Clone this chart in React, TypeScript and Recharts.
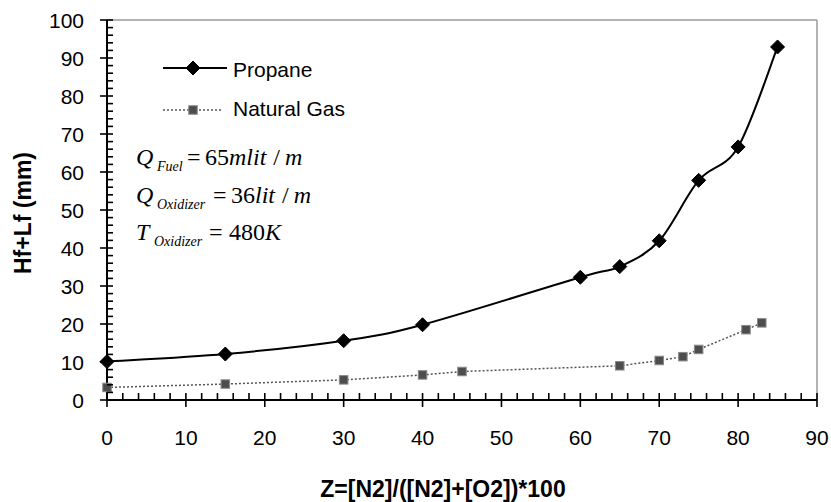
import React from "react";
import { LineChart, Line, XAxis, YAxis, ReferenceLine } from "recharts";

// Flame height data, Hf+Lf (mm) against nitrogen dilution Z (%)
const propaneZ = [0, 15, 30, 40, 60, 65, 70, 75, 80, 85];
const propaneH = [10.1, 12.1, 15.6, 19.8, 32.3, 35.1, 41.9, 57.8, 66.6, 92.9];
const gasZ = [0, 15, 30, 40, 45, 65, 70, 73, 75, 81, 83];
const gasH = [3.3, 4.2, 5.3, 6.6, 7.5, 9.0, 10.4, 11.4, 13.3, 18.5, 20.3];

const xMajorTicks = [0, 10, 20, 30, 40, 50, 60, 70, 80, 90];
const yMajorTicks = [0, 10, 20, 30, 40, 50, 60, 70, 80, 90, 100];
const minorStep = 2;

const xTicks: number[] = [];
for (let v = 0; v <= 90; v += minorStep) xTicks.push(v);
const yTicks: number[] = [];
for (let v = 0; v <= 100; v += minorStep) yTicks.push(v);

const propaneData = propaneZ.map((z, i) => ({ z, h: propaneH[i] }));
const gasData = gasZ.map((z, i) => ({ z, h: gasH[i] }));

const SANS = "'Liberation Sans', Arial, sans-serif";
const SERIF = "'Liberation Serif', 'Times New Roman', serif";

// Bezier smoothing through every point (Catmull-Rom style control points)
function smoothCurve(context: any) {
  let pts: number[][] = [];
  return {
    areaStart() {},
    areaEnd() {},
    lineStart() {
      pts = [];
    },
    point(x: number, y: number) {
      pts.push([+x, +y]);
    },
    lineEnd() {
      const n = pts.length;
      if (!n) return;
      context.moveTo(pts[0][0], pts[0][1]);
      for (let i = 0; i < n - 1; i++) {
        const p0 = pts[i - 1] || pts[i];
        const p1 = pts[i];
        const p2 = pts[i + 1];
        const p3 = pts[i + 2] || p2;
        context.bezierCurveTo(
          p1[0] + (p2[0] - p0[0]) / 6,
          p1[1] + (p2[1] - p0[1]) / 6,
          p2[0] - (p3[0] - p1[0]) / 6,
          p2[1] - (p3[1] - p1[1]) / 6,
          p2[0],
          p2[1]
        );
      }
    },
  };
}

const Diamond = ({ cx, cy, r = 7 }: any) => (
  <path d={`M${cx},${cy - r}L${cx + r},${cy}L${cx},${cy + r}L${cx - r},${cy}Z`} fill="#000" stroke="#000" strokeWidth={1} />
);

const Square = ({ cx, cy, s = 8.5 }: any) => (
  <rect x={cx - s / 2} y={cy - s / 2} width={s} height={s} fill="#4d4d4d" stroke="#8a8a8a" strokeWidth={1} />
);

const XTick = ({ x, y, payload }: any) => {
  const v = payload.value;
  const major = xMajorTicks.includes(v);
  return (
    <g>
      <line x1={x} x2={x} y1={y - 7} y2={major ? y + 7 : y} stroke="#000" strokeWidth={1.6} />
      {major && (
        <text x={x} y={y + 45} textAnchor="middle" fontFamily={SANS} fontSize={21} fill="#000">
          {v}
        </text>
      )}
    </g>
  );
};

const YTick = ({ x, y, payload }: any) => {
  const v = payload.value;
  const major = yMajorTicks.includes(v);
  return (
    <g>
      <line x1={major ? x - 7 : x} x2={x + 6} y1={y} y2={y} stroke="#000" strokeWidth={1.6} />
      {major && (
        <text x={x - 23} y={y + 7.5} textAnchor="end" fontFamily={SANS} fontSize={21} fill="#000">
          {v}
        </text>
      )}
    </g>
  );
};

export default function App() {
  return (
    <div style={{ position: "absolute", left: 0, top: 0, width: 831, height: 502, background: "#fff" }}>
      <LineChart width={831} height={502} margin={{ top: 20, right: 14, bottom: 0, left: 0 }}>
        <XAxis
          dataKey="z"
          type="number"
          domain={[0, 90]}
          ticks={xTicks}
          interval={0}
          tickSize={0}
          tickMargin={0}
          tickLine={false}
          tick={<XTick />}
          height={102}
          axisLine={{ stroke: "#000", strokeWidth: 2 }}
          allowDuplicatedCategory={false}
        />
        <YAxis
          type="number"
          domain={[0, 100]}
          ticks={yTicks}
          interval={0}
          tickSize={0}
          tickMargin={0}
          tickLine={false}
          tick={<YTick />}
          width={107}
          axisLine={{ stroke: "#000", strokeWidth: 2 }}
        />
        <ReferenceLine y={100} stroke="#9a9a9a" strokeWidth={1.5} />
        <ReferenceLine x={90} stroke="#9a9a9a" strokeWidth={1.5} />
        <Line
          data={propaneData}
          dataKey="h"
          name="Propane"
          type={smoothCurve as any}
          stroke="#000"
          strokeWidth={2}
          isAnimationActive={false}
          dot={(p: any) => <Diamond key={`p${p.index}`} cx={p.cx} cy={p.cy} />}
        />
        <Line
          data={gasData}
          dataKey="h"
          name="Natural Gas"
          type="linear"
          stroke="#555"
          strokeWidth={1.5}
          strokeDasharray="2 2"
          isAnimationActive={false}
          dot={(p: any) => <Square key={`g${p.index}`} cx={p.cx} cy={p.cy} />}
        />
      </LineChart>
      <svg width={831} height={502} style={{ position: "absolute", left: 0, top: 0, pointerEvents: "none" }}>
        {/* legend */}
        <line x1={163} x2={227} y1={68} y2={68} stroke="#000" strokeWidth={2} />
        <Diamond cx={193} cy={68} />
        <text x={233} y={77} fontFamily={SANS} fontSize={21} fill="#000">Propane</text>
        <line x1={163} x2={222} y1={110} y2={110} stroke="#555" strokeWidth={1.5} strokeDasharray="2 2" />
        <Square cx={193} cy={110} />
        <text x={233} y={116} fontFamily={SANS} fontSize={21} fill="#000">Natural Gas</text>

        {/* operating conditions */}
        <text y={165} fontFamily={SERIF} fontSize={24} fill="#000">
          <tspan x={136} fontStyle="italic">Q</tspan>
          <tspan x={157} dy={6} fontSize={14} fontStyle="italic">Fuel</tspan>
          <tspan x={187} dy={-6}>=</tspan>
          <tspan x={205}>65</tspan>
          <tspan fontStyle="italic">mlit</tspan>
          <tspan dx={7}>/</tspan>
          <tspan dx={5} fontStyle="italic">m</tspan>
        </text>
        <text y={203} fontFamily={SERIF} fontSize={24} fill="#000">
          <tspan x={136} fontStyle="italic">Q</tspan>
          <tspan x={157} dy={6} fontSize={14} fontStyle="italic">Oxidizer</tspan>
          <tspan x={213} dy={-6}>=</tspan>
          <tspan x={231}>36</tspan>
          <tspan fontStyle="italic">lit</tspan>
          <tspan dx={7}>/</tspan>
          <tspan dx={5} fontStyle="italic">m</tspan>
        </text>
        <text y={240} fontFamily={SERIF} fontSize={24} fill="#000">
          <tspan x={136} fontStyle="italic">T</tspan>
          <tspan x={154} dy={6} fontSize={14} fontStyle="italic">Oxidizer</tspan>
          <tspan x={209} dy={-6}>=</tspan>
          <tspan x={229}>480</tspan>
          <tspan fontStyle="italic">K</tspan>
        </text>

        {/* axis titles */}
        <text x={443} y={497} textAnchor="middle" fontFamily={SANS} fontSize={23} fontWeight="bold" fill="#000">
          Z=[N2]/([N2]+[O2])*100
        </text>
        <text
          x={-213}
          y={31}
          transform="rotate(-90)"
          textAnchor="middle"
          fontFamily={SANS}
          fontSize={23}
          fontWeight="bold"
          fill="#000"
        >
          Hf+Lf (mm)
        </text>
      </svg>
    </div>
  );
}
